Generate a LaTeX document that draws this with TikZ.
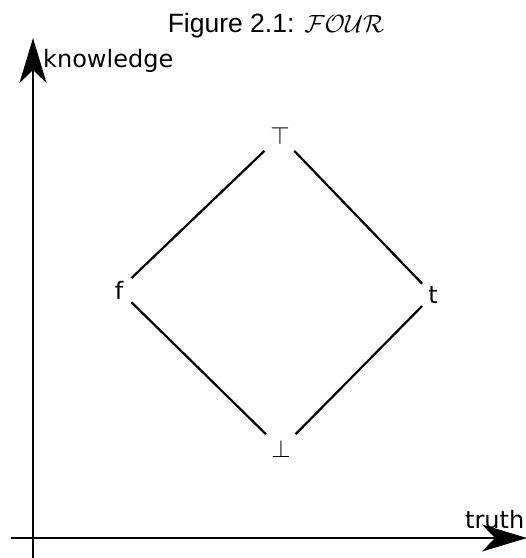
\documentclass[tikz,border=0pt]{standalone}
\usepackage{fontspec}
\setmainfont{DejaVu Sans}
\newfontfamily\titlefont{Liberation Sans}
\usetikzlibrary{arrows.meta}

\begin{document}
\begin{tikzpicture}[
  x=1pt,y=-1pt,
  font=\fontsize{24}{27}\selectfont,
  axis/.style={line width=2.5pt,-{Stealth[length=45pt,width=27pt,inset=13pt]}},
  edge/.style={line width=2.2pt},
  val/.style={fill=white,inner sep=6pt}
]
\useasboundingbox (0,0) rectangle (526,558);
\node[font=\titlefont\fontsize{26.5}{30}\selectfont,anchor=base] (title) at (276,32) {Figure 2.1: $\mathcal{FOUR}$};
% axes
\coordinate (kbot) at (33,558);
\coordinate (ktop) at (33,38);
\coordinate (tleft) at (11,538);
\coordinate (tright) at (527,538);
\draw[axis] (kbot) -- (ktop);
\draw[axis] (tleft) -- (tright);
\node[anchor=base west,inner sep=0pt] (know) at (43,67) {knowledge};
\node[anchor=base west,inner sep=0pt] (truth) at (465,528) {truth};
% the four values
\node[val] (top) at (280,136) {$\top$};
\node[val,inner sep=8pt] (f) at (119,290) {f};
\node[val] (t) at (433,295) {t};
\node[val] (bot) at (281,449) {$\bot$};
\draw[edge] (top) -- (f);
\draw[edge] (top) -- (t);
\draw[edge] (f) -- (bot);
\draw[edge] (t) -- (bot);
\end{tikzpicture}
\end{document}
